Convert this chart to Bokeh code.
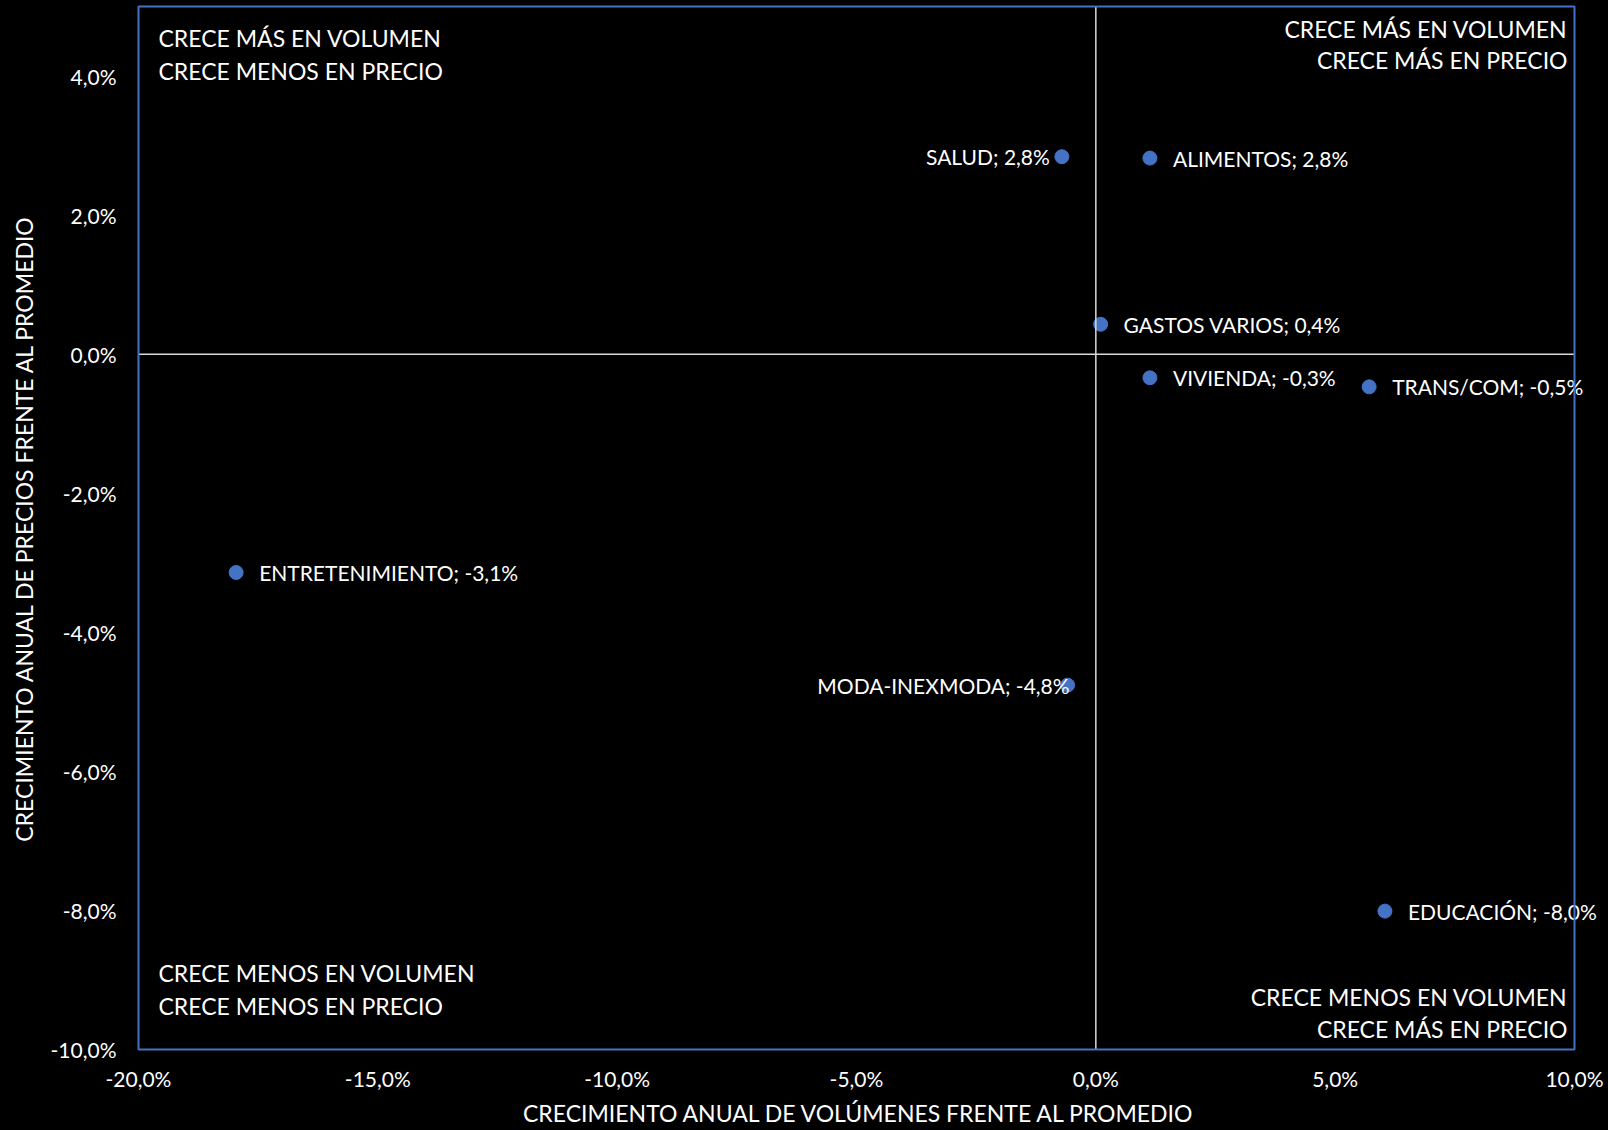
from bokeh.plotting import figure
from bokeh.models import (ColumnDataSource, Span, Range1d, FixedTicker,
                          CustomJSTickFormatter, Label, Title)
from bokeh.embed import file_html
from bokeh.resources import INLINE

# ---------------- data ----------------
categories = ["SALUD", "ALIMENTOS", "GASTOS VARIOS", "VIVIENDA", "TRANS/COM",
              "ENTRETENIMIENTO", "MODA-INEXMODA", "EDUCACIÓN"]
volume_growth = [-0.71, 1.13, 0.10, 1.13, 5.71, -17.96, -0.59, 6.04]   # % vs average
price_growth = [2.84, 2.82, 0.43, -0.34, -0.47, -3.14, -4.76, -8.01]    # % vs average
x_ticks = [-20, -15, -10, -5, 0, 5, 10]
y_ticks = [-10, -8, -6, -4, -2, 0, 2, 4]
x_title = "CRECIMIENTO ANUAL DE VOLÚMENES FRENTE AL PROMEDIO"
y_title = "CRECIMIENTO ANUAL DE PRECIOS FRENTE AL PROMEDIO"
quadrant_texts = {
    "top_left": ["CRECE MÁS EN VOLUMEN", "CRECE MENOS EN PRECIO"],
    "top_right": ["CRECE MÁS EN VOLUMEN", "CRECE MÁS EN PRECIO"],
    "bottom_left": ["CRECE MENOS EN VOLUMEN", "CRECE MENOS EN PRECIO"],
    "bottom_right": ["CRECE MENOS EN VOLUMEN", "CRECE MÁS EN PRECIO"],
}
X_MIN, X_MAX = -20, 10
Y_MIN, Y_MAX = -10, 5

# ---------------- styles / geometry ----------------
FONT = "Lato"
WHITE = "#FFFFFF"
BLUE = "#4472C4"
FIG_W, FIG_H = 1608, 1130
FRAME_LEFT, BOX_RIGHT = 138, 1574      # pixel edges of the visible plot box
# the drawing frame runs to the figure's right edge so that data labels may
# overflow the visible box (as in the original); the box itself is drawn.
x_end = X_MAX + (FIG_W - BOX_RIGHT) * (X_MAX - X_MIN) / (BOX_RIGHT - FRAME_LEFT)
TITLE_WIDTH_EST = 667                   # rendered width of the x title, px
title_offset = (FRAME_LEFT + BOX_RIGHT) / 2 - FRAME_LEFT - TITLE_WIDTH_EST / 2

left_labels = {"SALUD": -12, "MODA-INEXMODA": 2}
RIGHT_OFFSET = 23

labels = [f"{c}; {y:.1f}%".replace(".", ",") for c, y in zip(categories, price_growth)]
pts = ColumnDataSource(dict(x=volume_growth, y=price_growth, label=labels))

p = figure(width=FIG_W, height=FIG_H, output_backend="svg", toolbar_location=None,
           x_range=Range1d(X_MIN, x_end), y_range=Range1d(Y_MIN, Y_MAX),
           background_fill_color="black", border_fill_color="black",
           min_border_left=FRAME_LEFT, min_border_right=0, min_border_top=6,
           min_border_bottom=81)
p.outline_line_color = None
p.xgrid.visible = False
p.ygrid.visible = False

fmt = CustomJSTickFormatter(code="return tick.toFixed(1).replace('.', ',') + '%';")
for ax, ticks in ((p.xaxis[0], x_ticks), (p.yaxis[0], y_ticks)):
    ax.ticker = FixedTicker(ticks=ticks)
    ax.formatter = fmt
    ax.axis_line_color = None
    ax.major_tick_line_color = None
    ax.minor_tick_line_color = None
    ax.major_label_text_color = WHITE
    ax.major_label_text_font = FONT
    ax.major_label_text_font_size = "21px"
    ax.axis_label_text_color = WHITE
    ax.axis_label_text_font = FONT
    ax.axis_label_text_font_size = "23px"
    ax.axis_label_text_font_style = "normal"

p.yaxis[0].axis_label = y_title
p.xaxis[0].major_label_standoff = 10
p.yaxis[0].major_label_standoff = 16
p.yaxis[0].axis_label_standoff = 10

# x-axis title, centred under the visible box
p.add_layout(Title(text=x_title, align="left", offset=title_offset,
                   text_color=WHITE, text_font=FONT, text_font_size="23px",
                   text_font_style="normal", standoff=6), "below")

# axes crossing at zero
p.add_layout(Span(location=0, dimension="height", line_color="#D9D9D9", line_width=1.5))
p.segment(x0=[X_MIN], y0=[0], x1=[X_MAX], y1=[0], line_color="#D9D9D9", line_width=1.5)

p.scatter("x", "y", source=pts, size=14, color=BLUE, line_color=BLUE)

# data labels
lstyle = dict(text_baseline="middle", text_color=WHITE, text_font=FONT,
              text_font_size="21px")
for c, xv, yv, txt in zip(categories, volume_growth, price_growth, labels):
    if c in left_labels:
        p.add_layout(Label(x=xv, y=yv, text=txt, x_offset=left_labels[c],
                           text_align="right", **lstyle))
    else:
        p.add_layout(Label(x=xv, y=yv, text=txt, x_offset=RIGHT_OFFSET,
                           text_align="left", **lstyle))

# quadrant annotations, anchored to the box corners
qstyle = dict(text_color=WHITE, text_font=FONT, text_font_size="23px",
              text_baseline="middle")
corners = {
    "top_left": (X_MIN, Y_MAX, "left", 20, [-31, -64]),
    "top_right": (X_MAX, Y_MAX, "right", -7, [-22, -53]),
    "bottom_left": (X_MIN, Y_MIN, "left", 20, [77, 44]),
    "bottom_right": (X_MAX, Y_MIN, "right", -7, [53, 21]),
}
for key, (cx, cy, align, xo, yos) in corners.items():
    for line, yo in zip(quadrant_texts[key], yos):
        p.add_layout(Label(x=cx, y=cy, x_offset=xo, y_offset=yo, text=line,
                           text_align=align, **qstyle))

# visible plot box, drawn on top of everything
p.quad(left=[X_MIN], right=[X_MAX], bottom=[Y_MIN], top=[Y_MAX],
       fill_color=None, line_color=BLUE, line_width=2, level="overlay")

html = file_html(p, INLINE)
html = html.replace("<head>", "<head><style>html,body{background:#000000;}</style>", 1)
open("out.html", "w").write(html)
